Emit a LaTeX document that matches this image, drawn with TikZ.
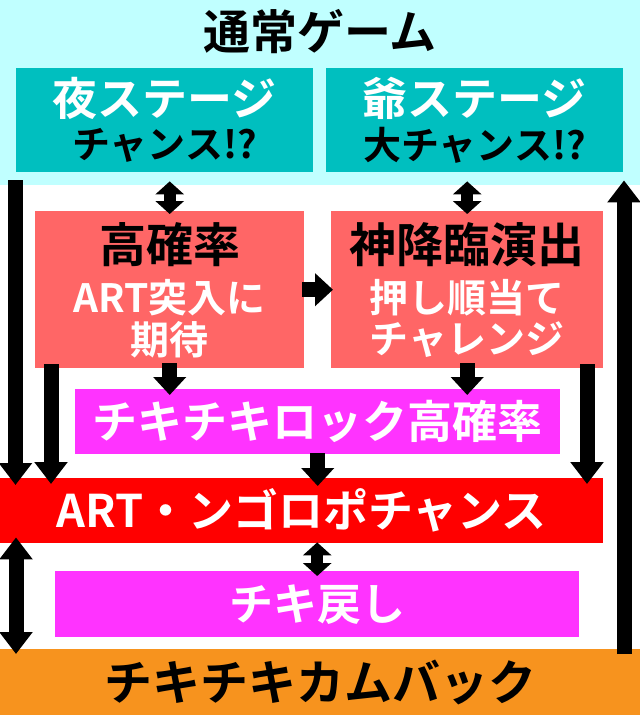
\documentclass[tikz,border=0pt]{standalone}
\usepackage{fontspec}
\setmainfont{Noto Sans CJK JP}[BoldFont={Noto Sans CJK JP Bold}]
\usetikzlibrary{arrows.meta}

\definecolor{bgcyan}{RGB}{192,255,255}
\definecolor{boxteal}{RGB}{0,191,191}
\definecolor{boxsalmon}{RGB}{255,102,102}
\definecolor{boxpink}{RGB}{255,51,255}
\definecolor{barred}{RGB}{255,0,0}
\definecolor{barorange}{RGB}{247,147,30}

\newcommand{\fsz}[1]{\bfseries\fontsize{#1}{#1}\selectfont}

\begin{document}
\begin{tikzpicture}[x=1pt,y=-1pt,
		box/.style={rectangle,inner sep=0pt,anchor=north west},
		bigarrow/.style={line width=15pt,-{Triangle[width=32pt,length=22pt]}},
		midarrow/.style={line width=15pt,-{Triangle[width=32pt,length=18pt]}},
		dblarrow/.style={line width=12pt,{Triangle[width=28pt,length=13pt]}-{Triangle[width=28pt,length=13pt]}},
		longdbl/.style={line width=15pt,{Triangle[width=32pt,length=22pt]}-{Triangle[width=32pt,length=22pt]}}]
					\useasboundingbox (0,0) rectangle (640,715);
					% boxes
					\node(normal)[box,fill=bgcyan,minimum width=640pt,minimum height=185pt] at (0,0) {};
					\node(title)[font=\fsz{47}] at (320,32) {通常ゲーム};
					\node(yoru)[box,fill=boxteal,minimum width=297pt,minimum height=104pt] at (16,68) {};
					\node(jii)[box,fill=boxteal,minimum width=297pt,minimum height=104pt] at (326,68) {};
					\node(kakuritsu)[box,fill=boxsalmon,minimum width=269pt,minimum height=157pt] at (35,211) {};
					\node(shinkourin)[box,fill=boxsalmon,minimum width=272pt,minimum height=157pt] at (331,211) {};
					\node(lock)[box,fill=boxpink,text=white,font=\fsz{45},minimum width=485pt,minimum height=65pt] at (75,389) {チキチキロック高確率};
					\node(ngoro)[box,fill=barred,text=white,font=\fsz{45},minimum width=603pt,minimum height=65pt] at (0,478) {ART・ンゴロポチャンス};
					\node(modoshi)[box,fill=boxpink,text=white,font=\fsz{44},minimum width=524pt,minimum height=66pt] at (55,571) {チキ戻し};
					\node(comeback)[box,fill=barorange,font=\fsz{48},minimum width=640pt,minimum height=66pt] at (0,649) {チキチキカムバック};
					% texts in the boxes
					\node(yoruA)[text=white,font=\fsz{45}] at (164.5,98) {夜ステージ};
					\node(yoruB)[font=\fsz{38}] at (164.5,145) {チャンス!?};
					\node(jiiA)[text=white,font=\fsz{45}] at (474.5,98) {爺ステージ};
					\node(jiiB)[font=\fsz{38}] at (474.5,145) {大チャンス!?};
					\node(kakuA)[font=\fsz{47}] at (169.5,245) {高確率};
					\node(kakuB)[text=white,font=\fsz{39}] at (169.5,298) {ART突入に};
					\node(kakuC)[text=white,font=\fsz{39}] at (169.5,340) {期待};
					\node(shinA)[font=\fsz{47}] at (467,245) {神降臨演出};
					\node(shinB)[text=white,font=\fsz{39}] at (467,298) {押し順当て};
					\node(shinC)[text=white,font=\fsz{39}] at (467,340) {チャレンジ};
					% arrows
					\coordinate(lx) at (15.5,0);
					\coordinate(lx2) at (51,0);
					\coordinate(rx2) at (587,0);
					\coordinate(rx) at (624,0);
					\draw[bigarrow,shorten <=-5pt,shorten >=-7pt] (lx |- normal.south) -- (lx |- ngoro.north);
					\draw[bigarrow,shorten <=-4pt,shorten >=-6pt] (lx2 |- kakuritsu.south) -- (lx2 |- ngoro.north);
					\draw[bigarrow,shorten <=-4pt,shorten >=-6pt] (rx2 |- shinkourin.south) -- (rx2 |- ngoro.north);
					\draw[bigarrow,shorten <=-5pt,shorten >=-5pt] (rx |- comeback.north) -- (rx |- normal.south);
					\draw[dblarrow,shorten <=9pt,shorten >=-3pt] (kakuritsu.north |- yoru.south) -- (kakuritsu.north);
					\draw[dblarrow,shorten <=9pt,shorten >=-3pt] (shinkourin.north |- jii.south) -- (shinkourin.north);
					\draw[midarrow,shorten <=-2pt,shorten >=-2pt] (kakuritsu.east) -- (shinkourin.west);
					\draw[midarrow,shorten <=-5pt,shorten >=-6pt] (kakuritsu.south) -- (kakuritsu.south |- lock.north);
					\draw[midarrow,shorten <=-5pt,shorten >=-6pt] (shinkourin.south) -- (shinkourin.south |- lock.north);
					\draw[midarrow,shorten <=-1pt,shorten >=-8pt] (lock.south) -- (lock.south |- ngoro.north);
					\draw[dblarrow,shorten <=-1pt,shorten >=-5pt] (modoshi.north |- ngoro.south) -- (modoshi.north);
					\draw[longdbl,shorten <=-6pt,shorten >=-5pt] (16,0 |- ngoro.south) -- (16,0 |- comeback.north);
\end{tikzpicture}
\end{document}
